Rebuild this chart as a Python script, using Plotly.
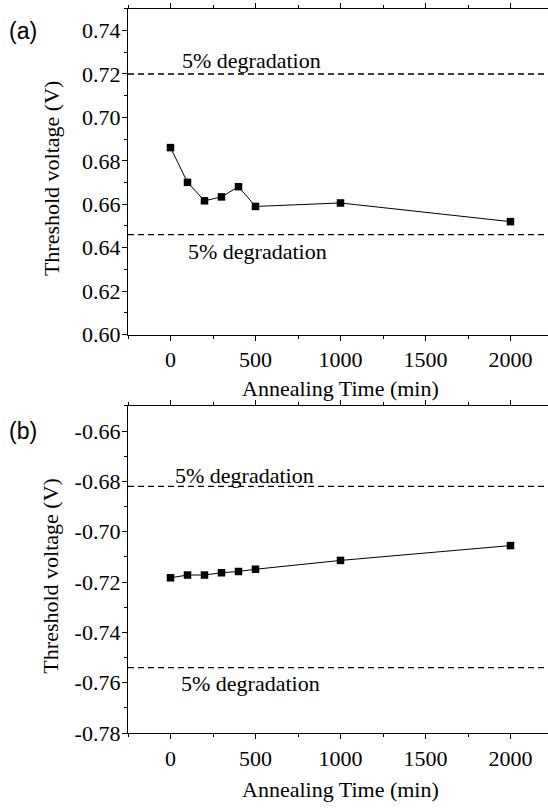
import plotly.graph_objects as go

# ---- data ----
time_min = [0, 100, 200, 300, 400, 500, 1000, 2000]
vth_a = [0.6861, 0.6701, 0.6616, 0.6634, 0.6681, 0.6590, 0.6606, 0.6520]
vth_b = [-0.7183, -0.7172, -0.7172, -0.7163, -0.7158, -0.7149, -0.7114, -0.7055]
limits_a = [0.720, 0.646]
limits_b = [-0.682, -0.754]
label_text = "5% degradation"
yticks_a = [0.60, 0.62, 0.64, 0.66, 0.68, 0.70, 0.72, 0.74]
yticks_b = [-0.78, -0.76, -0.74, -0.72, -0.70, -0.68, -0.66]
xticks = [0, 500, 1000, 1500, 2000]

SERIF = "Liberation Serif, Times New Roman, serif"
SANS = "Liberation Sans, Arial, sans-serif"
FS = 22
L = 128  # left margin px
PW = 420  # plot width px

fig = go.Figure()
for y, xa, ya in [(vth_a, "x", "y"), (vth_b, "x2", "y2")]:
    fig.add_trace(go.Scatter(
        x=time_min, y=y, xaxis=xa, yaxis=ya, mode="lines+markers",
        line=dict(color="black", width=1),
        marker=dict(symbol="square", size=7.5, color="black"),
        showlegend=False, cliponaxis=False))

# dashed degradation limits
for lims, xa, ya in [(limits_a, "x", "y"), (limits_b, "x2", "y2")]:
    for v in lims:
        fig.add_shape(type="line", xref=f"{xa} domain", yref=ya,
                      x0=0, x1=1, y0=v, y1=v,
                      line=dict(color="black", width=1.3, dash="6px,4px"))

axis_common = dict(
    showline=True, linecolor="black", linewidth=1.3,
    ticks="outside", ticklen=5, tickwidth=1.2, tickcolor="black",
    tickfont=dict(family=SERIF, size=FS, color="black"),
    showgrid=False, zeroline=False,
)

xcommon = dict(axis_common, range=[-250, 2220.6], tickvals=xticks,
               ticktext=[str(v) for v in xticks], mirror="allticks",
               minor=dict(ticks="outside", ticklen=3, tickwidth=1,
                          tickcolor="black", dtick=250, tick0=-250))

ycommon = dict(axis_common, ticklabelstandoff=-3)

fig.update_layout(
    width=548, height=812,
    margin=dict(l=L, r=0, t=0, b=0),
    paper_bgcolor="white", plot_bgcolor="white",
    font=dict(family=SERIF, size=FS, color="black"),
    xaxis=dict(xcommon, domain=[0, 1], anchor="y"),
    xaxis2=dict(xcommon, domain=[0, 1], anchor="y2"),
    yaxis=dict(ycommon, domain=[1 - 340 / 812, 1 - 9 / 812], anchor="x",
               range=[0.60, 0.75], tickvals=yticks_a,
               ticktext=[f"{v:.2f}" for v in yticks_a],
               minor=dict(ticks="outside", ticklen=3, tickwidth=1,
                          tickcolor="black", dtick=0.01, tick0=0.60)),
    yaxis2=dict(ycommon, domain=[1 - 745 / 812, 1 - 412.5 / 812], anchor="x2",
                range=[-0.78, -0.65], tickvals=yticks_b,
                ticktext=[f"{v:.2f}" for v in yticks_b],
                minor=dict(ticks="outside", ticklen=3, tickwidth=1,
                           tickcolor="black", dtick=0.01, tick0=-0.78)),
)

ann = []
# degradation labels
ann += [
    dict(x=476, y=0.7261, xref="x", yref="y", text=label_text),
    dict(x=510, y=0.6381, xref="x", yref="y", text=label_text),
    dict(x=438, y=-0.6777, xref="x2", yref="y2", text=label_text),
    dict(x=470, y=-0.7604, xref="x2", yref="y2", text=label_text),
]
for a in ann:
    a.update(showarrow=False, font=dict(family=SERIF, size=FS, color="black"),
             xanchor="center", yanchor="middle")

# axis titles
titles = [
    dict(x=1000, xref="x", y=1 - 395 / 812, yref="paper", text="Annealing Time (min)"),
    dict(x=1000, xref="x2", y=1 - 802 / 812, yref="paper", text="Annealing Time (min)"),
]
for t in titles:
    t.update(showarrow=False, font=dict(family=SERIF, size=FS, color="black"),
             xanchor="center", yanchor="middle")
ann += titles

for yc in [181, 585]:
    ann.append(dict(x=(51 - L) / PW, xref="paper", y=1 - yc / 812, yref="paper",
                    text="Threshold voltage (V)", textangle=-90, showarrow=False,
                    font=dict(family=SERIF, size=FS, color="black"),
                    xanchor="center", yanchor="middle"))

# panel labels
for txt, yc in [("(a)", 32), ("(b)", 438)]:
    ann.append(dict(x=(23 - L) / PW, xref="paper", y=1 - yc / 812, yref="paper",
                    text=txt, showarrow=False,
                    font=dict(family=SANS, size=23, color="black"),
                    xanchor="center", yanchor="middle"))

fig.update_layout(annotations=ann)
fig.write_html("out.html")
